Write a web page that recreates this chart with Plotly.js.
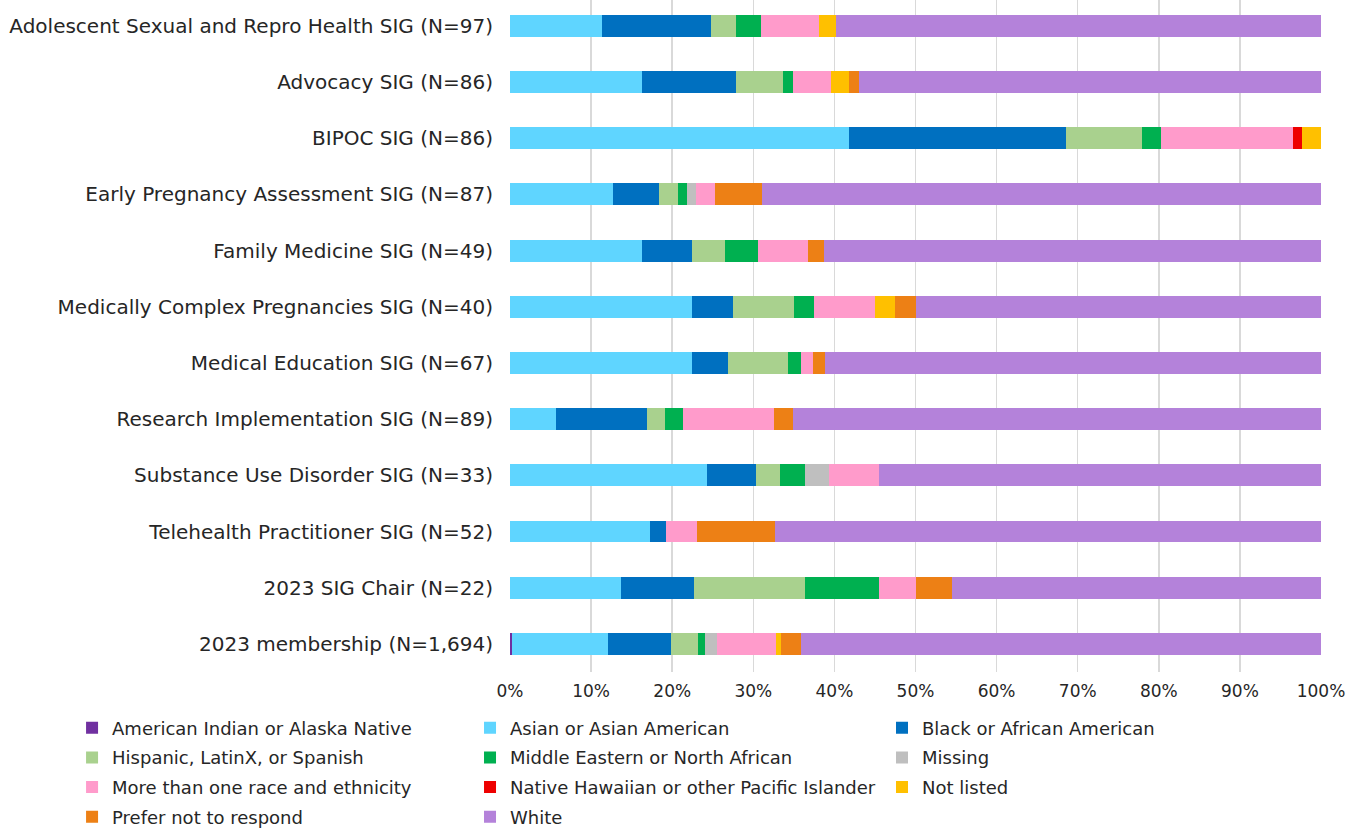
<!DOCTYPE html>
<html>
<head>
<meta charset="utf-8">
<script src="https://cdn.plot.ly/plotly-3.0.1.min.js"></script>
<style>
  html, body { margin: 0; padding: 0; background: #ffffff; }
  #chart { width: 1354px; height: 829px; }
</style>
</head>
<body>
<div id="chart"></div>
<script>
// Categories (top to bottom)
const categories = [
  "Adolescent Sexual and Repro Health SIG (N=97)",
  "Advocacy SIG (N=86)",
  "BIPOC SIG (N=86)",
  "Early Pregnancy Assessment SIG (N=87)",
  "Family Medicine SIG (N=49)",
  "Medically Complex Pregnancies SIG (N=40)",
  "Medical Education SIG (N=67)",
  "Research Implementation SIG (N=89)",
  "Substance Use Disorder SIG (N=33)",
  "Telehealth Practitioner SIG (N=52)",
  "2023 SIG Chair (N=22)",
  "2023 membership (N=1,694)"
];

// Percentages per group (same order as categories)
const americanIndian = [0, 0, 0, 0, 0, 0, 0, 0, 0, 0, 0, 0.2];
const asian          = [11.34, 16.28, 41.86, 12.64, 16.33, 22.5, 22.39, 5.62, 24.24, 17.31, 13.64, 11.9];
const black          = [13.40, 11.63, 26.74, 5.75, 6.12, 5.0, 4.48, 11.24, 6.06, 1.92, 9.09, 7.8];
const hispanic       = [3.09, 5.81, 9.30, 2.30, 4.08, 7.5, 7.46, 2.25, 3.03, 0, 13.64, 3.3];
const middleEastern  = [3.09, 1.16, 2.33, 1.15, 4.08, 2.5, 1.49, 2.25, 3.03, 0, 9.09, 0.9];
const missing        = [0, 0, 0, 1.15, 0, 0, 0, 0, 3.03, 0, 0, 1.4];
const multiRace      = [7.22, 4.65, 16.28, 2.30, 6.12, 7.5, 1.49, 11.24, 6.06, 3.85, 4.55, 7.3];
const nativeHawaiian = [0, 0, 1.16, 0, 0, 0, 0, 0, 0, 0, 0, 0];
const notListed      = [2.06, 2.33, 2.33, 0, 0, 2.5, 0, 0, 0, 0, 0, 0.6];
const preferNot      = [0, 1.16, 0, 5.75, 2.04, 2.5, 1.49, 2.25, 0, 9.62, 4.55, 2.5];
const white          = [59.79, 56.98, 0, 68.97, 61.22, 50.0, 61.19, 65.17, 54.55, 67.31, 45.45, 64.1];

const seriesNames = [
  "American Indian or Alaska Native",
  "Asian or Asian American",
  "Black or African American",
  "Hispanic, LatinX, or Spanish",
  "Middle Eastern or North African",
  "Missing",
  "More than one race and ethnicity",
  "Native Hawaiian or other Pacific Islander",
  "Not listed",
  "Prefer not to respond",
  "White"
];
const seriesValues = [americanIndian, asian, black, hispanic, middleEastern, missing,
                      multiRace, nativeHawaiian, notListed, preferNot, white];
const seriesColors = ["#7030A0", "#5FD5FF", "#0070C0", "#A9D18E", "#00B050", "#BFBFBF",
                      "#FF9BCB", "#EE0000", "#FFC000", "#ED8015", "#B482DA"];
// legend column for each series (three columns, filled row by row)
const legendColumns = ["legend", "legend2", "legend3", "legend", "legend2", "legend3",
                       "legend", "legend2", "legend3", "legend", "legend2"];

const FONT = "DejaVu Sans, sans-serif";

const traces = seriesNames.map((name, i) => ({
  type: "bar",
  orientation: "h",
  name: name,
  legendgroup: name,
  legend: legendColumns[i],
  y: categories,
  x: seriesValues[i],
  marker: { color: seriesColors[i], line: { width: 0 } },
  hovertemplate: "%{y}<br>" + name + ": %{x}%<extra></extra>"
}));

function legendAt(x) {
  return {
    orientation: "v",
    x: x,
    xanchor: "left",
    y: -0.0558,
    yanchor: "top",
    traceorder: "grouped",
    tracegroupgap: 3.3,
    font: { family: FONT, size: 18, color: "#262626" },
    bgcolor: "rgba(0,0,0,0)",
    borderwidth: 0
  };
}

const layout = {
  width: 1354,
  height: 829,
  margin: { l: 510, r: 33, t: 0, b: 157, autoexpand: false },
  paper_bgcolor: "#ffffff",
  plot_bgcolor: "#ffffff",
  barmode: "stack",
  bargap: 0.61,
  showlegend: true,
  font: { family: FONT, size: 17, color: "#262626" },
  xaxis: {
    range: [0, 100],
    tickvals: [0, 10, 20, 30, 40, 50, 60, 70, 80, 90, 100],
    ticktext: ["0%", "10%", "20%", "30%", "40%", "50%", "60%", "70%", "80%", "90%", "100%"],
    showgrid: true,
    gridcolor: "#d9d9d9",
    gridwidth: 1.5,
    zeroline: false,
    showline: false,
    ticks: "",
    ticklabelstandoff: 7,
    tickfont: { family: FONT, size: 17, color: "#262626" },
    fixedrange: true
  },
  yaxis: {
    type: "category",
    categoryorder: "array",
    categoryarray: categories,
    range: [11.5, -0.46],
    showgrid: false,
    zeroline: false,
    showline: false,
    ticks: "",
    ticklabelstandoff: 16,
    tickfont: { family: FONT, size: 20, color: "#262626" },
    fixedrange: true
  },
  legend: legendAt(-0.540),
  legend2: legendAt(-0.0493),
  legend3: legendAt(0.4587)
};

Plotly.newPlot("chart", traces, layout, { displayModeBar: false, staticPlot: true });
</script>
</body>
</html>
